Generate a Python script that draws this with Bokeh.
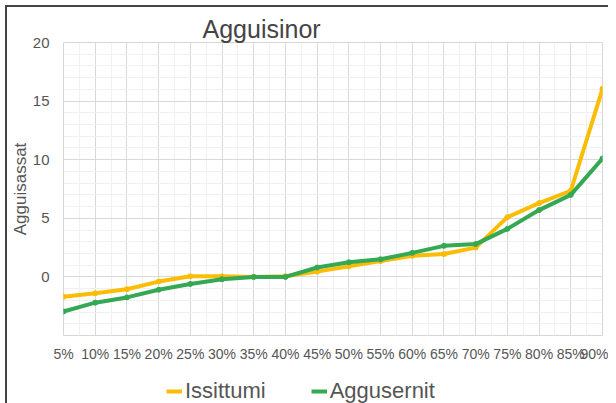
from bokeh.plotting import figure
from bokeh.layouts import column
from bokeh.models import FixedTicker, Range1d, Legend, LegendItem, ColumnDataSource
from bokeh.embed import file_html
from bokeh.resources import INLINE

categories = ["5%", "10%", "15%", "20%", "25%", "30%", "35%", "40%", "45%",
              "50%", "55%", "60%", "65%", "70%", "75%", "80%", "85%", "90%"]
issittumi = [-1.7, -1.4, -1.05, -0.4, 0.05, 0.05, 0.0, 0.05, 0.45, 0.9,
             1.35, 1.8, 1.95, 2.5, 5.1, 6.3, 7.35, 16.05]
aggusernit = [-2.95, -2.2, -1.75, -1.1, -0.6, -0.2, 0.0, 0.0, 0.8, 1.25,
              1.5, 2.05, 2.65, 2.8, 4.1, 5.7, 7.0, 10.1]
series_names = ["Issittumi", "Aggusernit"]
series_colors = ["#FBBC04", "#34A853"]
title_text = "Agguisinor"
y_title = "Agguisassat"
y_ticks = [0, 5, 10, 15, 20]
y_min, y_max = -5, 20

FONT = "Liberation Sans"
TXT = "#555555"

idx = list(range(len(categories)))
src = ColumnDataSource(dict(x=idx, a=issittumi, b=aggusernit))

p = figure(frame_width=539, frame_height=293,
           output_backend="svg", toolbar_location=None,
           x_range=Range1d(0, len(categories) - 1), y_range=Range1d(y_min, y_max),
           min_border_left=56, min_border_right=6, min_border_top=35, min_border_bottom=0)

p.title.text = title_text
p.title.text_font = FONT
p.title.text_font_size = "25px"
p.title.text_font_style = "normal"
p.title.text_color = "#444444"
p.title.align = "left"
p.title.offset = 139
p.title.standoff = 0

p.outline_line_color = "#d6d6d6"
p.background_fill_color = "white"
p.border_fill_color = "white"

p.xaxis.ticker = FixedTicker(ticks=idx, minor_ticks=[i + 0.5 for i in idx[:-1]])
p.xaxis.major_label_overrides = {i: c for i, c in zip(idx, categories)}
p.yaxis.ticker = FixedTicker(ticks=y_ticks, minor_ticks=list(range(y_min, y_max + 1)))

for ax in (p.xaxis[0], p.yaxis[0]):
    ax.axis_line_color = None
    ax.major_tick_line_color = None
    ax.minor_tick_line_color = None
    ax.major_tick_out = 0
    ax.major_tick_in = 0
    ax.minor_tick_out = 0
    ax.minor_tick_in = 0
    ax.major_label_text_font = FONT
    ax.major_label_text_color = TXT
p.xaxis.major_label_text_font_size = "14px"
p.xaxis.major_label_standoff = 10
p.yaxis.major_label_text_font_size = "15px"
p.yaxis.major_label_standoff = 14
p.yaxis.axis_label = y_title
p.yaxis.axis_label_text_font = FONT
p.yaxis.axis_label_text_font_size = "17px"
p.yaxis.axis_label_text_font_style = "normal"
p.yaxis.axis_label_text_color = TXT
p.yaxis.axis_label_standoff = 0

for g in (p.xgrid[0], p.ygrid[0]):
    g.grid_line_color = "#d9d9d9"
    g.grid_line_width = 1
    g.minor_grid_line_color = "#f0f0f0"
    g.minor_grid_line_width = 1

for col, color in zip(["a", "b"], series_colors):
    p.line("x", col, source=src, line_color=color, line_width=4)
    p.scatter("x", col, source=src, size=5, fill_color=color, line_color=color)

# legend strip below the chart (swatch lines sit outside the strip's visible range)
leg = figure(width=601, height=40, output_backend="svg", toolbar_location=None,
             x_axis_type=None, y_axis_type=None, x_range=Range1d(0, 1), y_range=Range1d(0, 1),
             min_border=0, outline_line_color=None)
leg.grid.visible = False
items = []
for name, color in zip(series_names, series_colors):
    r = leg.line(x=[0, 1], y=[-5, -5], line_color=color, line_width=4)
    items.append(LegendItem(label=name, renderers=[r]))
legend = Legend(items=items, orientation="horizontal", location=(103, 0),
                label_text_font=FONT, label_text_font_size="22px", label_text_color=TXT,
                glyph_width=16, glyph_height=14, label_standoff=3, spacing=45,
                padding=0, margin=0, border_line_color=None, background_fill_alpha=0)
leg.add_layout(legend, "center")

layout = column(p, leg, spacing=0)
layout.styles = {"margin-left": "5px", "margin-top": "5px",
                 "border-left": "2px solid #444444", "border-top": "2px solid #444444"}

open("out.html", "w").write(file_html(layout, INLINE))
